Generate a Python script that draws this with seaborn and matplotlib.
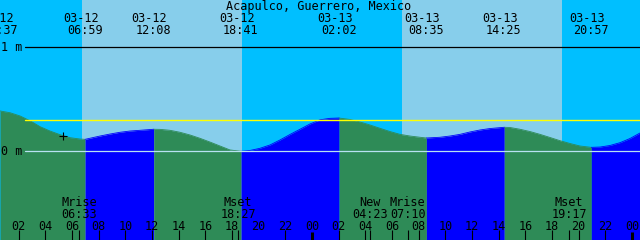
import numpy as np
import pandas as pd
import matplotlib
matplotlib.use("Agg")
import matplotlib.pyplot as plt
import seaborn as sns

TITLE = "Acapulco, Guerrero, Mexico"

# Tide level (hours since 03-12 00:00, metres)
hours = [0.60, 1.35, 2.10, 2.85, 3.60, 4.35, 5.10, 5.85, 6.60, 6.98,
         8.10, 8.85, 9.60, 10.35, 11.10, 12.13, 12.60, 13.35, 14.10, 14.85,
         15.60, 16.35, 17.10, 17.85, 18.68, 19.35, 20.10, 20.85, 21.60, 22.35,
         23.10, 23.85, 24.60, 25.35, 26.03, 26.85, 27.60, 28.35, 29.10, 29.85,
         30.60, 31.35, 32.10, 32.58, 33.60, 34.35, 35.10, 35.85, 36.60, 37.35,
         38.42, 38.85, 39.60, 40.35, 41.10, 41.85, 42.60, 43.35, 44.10, 44.95,
         45.60, 46.35, 47.10, 47.85, 48.60]
level = [0.388, 0.371, 0.340, 0.294, 0.237, 0.195, 0.160, 0.131, 0.118, 0.115,
         0.147, 0.166, 0.183, 0.195, 0.202, 0.212, 0.211, 0.202, 0.183, 0.157,
         0.125, 0.089, 0.051, 0.013, 0.000, 0.008, 0.029, 0.061, 0.109, 0.162,
         0.212, 0.263, 0.303, 0.317, 0.320, 0.306, 0.282, 0.253, 0.221, 0.190,
         0.163, 0.147, 0.135, 0.128, 0.135, 0.147, 0.163, 0.186, 0.205, 0.219,
         0.231, 0.229, 0.212, 0.190, 0.163, 0.133, 0.102, 0.075, 0.051, 0.038,
         0.041, 0.056, 0.083, 0.123, 0.176]

# Tide extremes
ext_hours = [0.62, 6.98, 12.13, 18.68, 26.03, 32.58, 38.42, 44.95]
ext_kind = ["H", "L", "H", "L", "H", "L", "H", "L"]
ext_date = ["03-12", "03-12", "03-12", "03-12", "03-13", "03-13", "03-13", "03-13"]
ext_time = ["00:37", "06:59", "12:08", "18:41", "02:02", "08:35", "14:25", "20:57"]

# Daylight
sunrise = [6.75, 30.75]
sunset = [18.75, 42.75]

# Moon events
moon_hours = [6.55, 18.45, 28.38, 31.17, 43.28]
moon_name = ["Mrise", "Mset", "New", "Mrise", "Mset"]
moon_time = ["06:33", "18:27", "04:23", "07:10", "19:17"]

# Hour axis
label_hours = list(range(2, 49, 2))
tick_labels = ["02", "04", "06", "08", "10", "12", "14", "16", "18", "20", "22", "00",
               "02", "04", "06", "08", "10", "12", "14", "16", "18", "20", "22", "00"]
tick_mark_hours = [2, 4, 6, 8, 10, 12, 14, 16, 18, 22,
                   26, 28, 30, 32, 34, 36, 38, 40, 42, 44, 46]
midnight_hours = [24, 48]

# Reference levels
ref_levels = [1.0, 0.0]
ref_labels = ["1 m", "0 m"]
mean_level = 0.298
now_hour, now_level = 5.33, 0.15

NIGHT = "#00BFFF"
DAY = "#87CEEB"
FLOOD = "#0000FF"
EBB = "#2E8B57"

sns.set_theme(style="white")
plt.rcParams["font.family"] = ["DejaVu Sans Mono", "DejaVu Sans"]

W, H = 640, 240
fig = plt.figure(figsize=(W / 100, H / 100), dpi=100)
fig.patch.set_facecolor(NIGHT)
ax = fig.add_axes([0, 0, 1, 1])
ax.set_facecolor(NIGHT)
XMIN, XMAX = 0.6, 48.6
YMIN, YMAX = -0.853, 1.455
ax.set_xlim(XMIN, XMAX)
ax.set_ylim(YMIN, YMAX)
ax.set_xticks([])
ax.set_yticks([])
for s in ax.spines.values():
    s.set_visible(False)

def yf(pix):
    return 1 - pix / H

trans = ax.get_xaxis_transform()

# daylight
for a, b in zip(sunrise, sunset):
    ax.axvspan(a, b, color=DAY, lw=0, zorder=0)

# tide segments
t = np.array(hours)
lv = np.array(level)
starts = [t.min()] + ext_hours[1:]
ends = ext_hours[1:] + [t.max()]
end_kind = ext_kind[1:] + ["H"]
rows = []
for k, (a, b, kind) in enumerate(zip(starts, ends, end_kind)):
    m = (t >= a - 1e-9) & (t <= b + 1e-9)
    phase = "rising" if kind == "H" else "falling"
    col = FLOOD if phase == "rising" else EBB
    ax.fill_between(t[m], YMIN, lv[m], color=col, lw=0, zorder=1)
    for tt, vv in zip(t[m], lv[m]):
        rows.append({"hours": tt, "level": vv, "segment": k, "phase": phase})
df = pd.DataFrame(rows)
sns.lineplot(data=df, x="hours", y="level", hue="phase", units="segment",
             estimator=None, palette={"rising": FLOOD, "falling": EBB},
             legend=False, lw=0.6, ax=ax, zorder=1.5)

# reference lines
x0 = 25 / W
ax.axhline(ref_levels[0], xmin=x0, xmax=1, color="black", lw=0.9, zorder=2)
ax.axhline(ref_levels[1], xmin=x0, xmax=1, color="#b8e2f2", lw=0.9, zorder=2)
ax.axhline(mean_level, xmin=x0, xmax=1, color="#FFFF00", lw=1.0, zorder=2)

fs = 8.5
for lvl, lab in zip(ref_levels, ref_labels):
    ax.annotate(lab, xy=(0, lvl), xycoords=("axes fraction", "data"),
                xytext=(1, -3.3), textcoords="offset pixels",
                ha="left", va="baseline", fontsize=fs, color="black", zorder=3)

# current marker
sns.scatterplot(x=[now_hour], y=[now_level], marker="+", s=36, color="black",
                linewidth=0.8, ax=ax, zorder=3)

# title
ax.text(0.498, yf(10), TITLE, transform=ax.transAxes, ha="center",
        va="baseline", fontsize=fs, color="black", zorder=4)

# extremes labels
for th, d, tm in zip(ext_hours, ext_date, ext_time):
    ax.annotate(d, xy=(th, yf(22)), xycoords=trans, xytext=(-4.5, 0),
                textcoords="offset pixels", ha="center", va="baseline",
                fontsize=fs, color="black", zorder=4)
    ax.annotate(tm, xy=(th, yf(34)), xycoords=trans, xytext=(-0.5, 0),
                textcoords="offset pixels", ha="center", va="baseline",
                fontsize=fs, color="black", zorder=4)

# moon labels
for mh, nm, tm in zip(moon_hours, moon_name, moon_time):
    ax.text(mh, yf(206), nm, transform=trans, ha="center", va="baseline",
            fontsize=fs, color="black", zorder=4)
    ax.text(mh, yf(217.5), tm, transform=trans, ha="center", va="baseline",
            fontsize=fs, color="black", zorder=4)

# hour labels and ticks
for hh, lab in zip(label_hours, tick_labels):
    ax.text(hh, yf(230), lab, transform=trans, ha="center", va="baseline",
            fontsize=fs, color="black", zorder=4)
ax.vlines(tick_mark_hours + moon_hours, 0, 10 / H, transform=trans,
          color="black", lw=0.8, zorder=4)
ax.vlines(midnight_hours, 0, 8.5 / H, transform=trans, color="black",
          lw=2.2, zorder=4)

fig.savefig("out.png", dpi=100, facecolor=NIGHT)
